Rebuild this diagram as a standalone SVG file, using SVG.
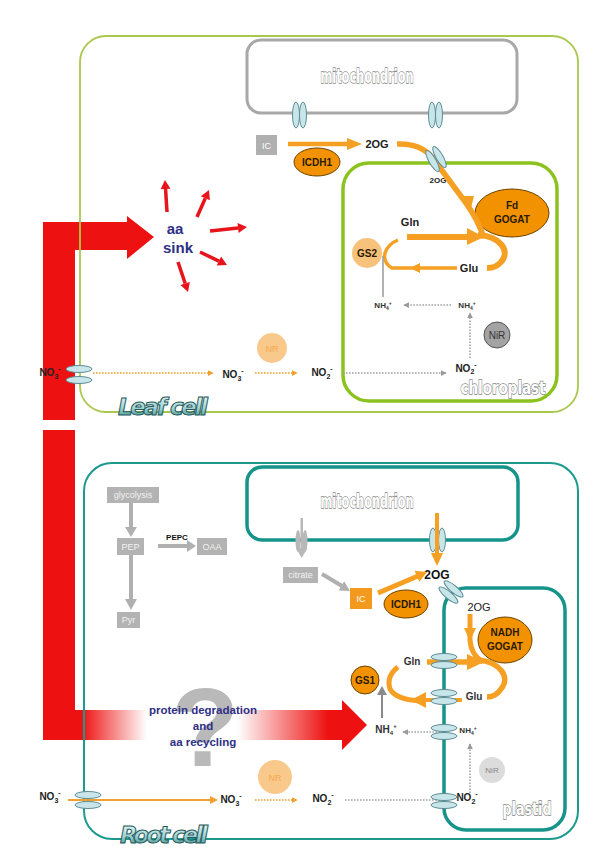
<svg xmlns="http://www.w3.org/2000/svg" width="600" height="864" viewBox="0 0 600 864">
<defs>
<style>
text{font-family:"Liberation Sans",Arial,sans-serif;}
.lbl{font-size:10px;font-weight:bold;fill:#222;text-anchor:middle}
.nh{font-size:8px;font-weight:bold;fill:#333;text-anchor:middle}
.org{fill:#f39200;stroke:#6b4200;stroke-width:1}
.otx{font-size:10px;font-weight:bold;fill:#2a1a00;text-anchor:middle}
.thick{fill:none;stroke:#f5a023;stroke-linecap:butt}
.ah{fill:#f5a023}
.dotO{fill:none;stroke:#f0a030;stroke-width:1.6;stroke-dasharray:1.6 1.4}
.dotG{fill:none;stroke:#a3a3a3;stroke-width:1.6;stroke-dasharray:1.6 1.4}
.chan{fill:#c8e6ea;stroke:#5d8d96;stroke-width:1}
.outl{font-family:"DejaVu Sans",sans-serif;font-weight:bold;fill:#ffffff;stroke:#858585;stroke-width:1.3;paint-order:stroke;text-anchor:middle}
.cell{font-family:"DejaVu Sans",sans-serif;font-style:italic;font-weight:bold;font-size:23px;fill:url(#cellG);stroke:#24585a;stroke-width:1}
.gbox{fill:#b3b3b3}
.gtxt{font-size:9px;fill:#f2f2f2;text-anchor:middle}
.blue{fill:#2e2f86;font-weight:bold;text-anchor:middle}
.red{fill:none;stroke:#e8141c;stroke-width:3.5}
.redh{fill:#e8141c}
.garr{fill:none;stroke:#b0b0b0;stroke-width:4}
.gah{fill:#b0b0b0}
</style>
<linearGradient id="cellG" x1="0" y1="0" x2="0" y2="1">
<stop offset="0" stop-color="#eefafa"/>
<stop offset="0.55" stop-color="#9fd3d3"/>
<stop offset="1" stop-color="#2f8585"/>
</linearGradient>
<linearGradient id="redG" gradientUnits="userSpaceOnUse" x1="43" y1="0" x2="367" y2="0">
<stop offset="0" stop-color="#ee1111"/>
<stop offset="0.12" stop-color="#ee1111"/>
<stop offset="0.32" stop-color="#ffffff"/>
<stop offset="0.6" stop-color="#ffffff"/>
<stop offset="0.88" stop-color="#ee1111"/>
<stop offset="1" stop-color="#ee1111"/>
</linearGradient>
<marker id="aO" viewBox="0 0 8 8" refX="7" refY="4" markerWidth="6" markerHeight="6" orient="auto" markerUnits="userSpaceOnUse"><path d="M0,0 L8,4 L0,8 z" fill="#f0a030"/></marker>
<marker id="aG" viewBox="0 0 8 8" refX="7" refY="4" markerWidth="6" markerHeight="6" orient="auto" markerUnits="userSpaceOnUse"><path d="M0,0 L8,4 L0,8 z" fill="#9a9a9a"/></marker>
</defs>
<rect width="600" height="864" fill="#ffffff"/>

<!-- red flows (drawn first) -->
<g id="flows">
<path d="M43 222 H127 V216 L154 237 L127 259 V250 H75 V420 H43 Z" fill="#ee1111"/>
<rect x="43" y="430" width="32" height="281" fill="#ee1111"/>
<path d="M43 710 H342 V700 L367 725 L342 750 V740 H43 Z" fill="url(#redG)"/>
<text x="205" y="766" font-size="112" font-weight="bold" fill="#b9b9b9" text-anchor="middle">?</text>
</g>

<!-- LEAF CELL -->
<g id="leaf-cell">
<rect x="80" y="36" width="498" height="376" rx="26" fill="none" stroke="#aac84e" stroke-width="1.8"/>
<text class="cell" x="163" y="415" text-anchor="middle" textLength="90">Leaf cell</text>
</g>
<g id="leaf-mitochondrion">
<rect x="247" y="40" width="270" height="73" rx="14" fill="none" stroke="#a8a8a8" stroke-width="3"/>
<text class="outl" x="367" y="83" font-size="19" textLength="93" lengthAdjust="spacingAndGlyphs">mitochondrion</text>
<ellipse class="chan" cx="296" cy="115" rx="3.5" ry="13"/>
<ellipse class="chan" cx="303" cy="115" rx="3.5" ry="13"/>
<ellipse class="chan" cx="432" cy="115" rx="3.5" ry="13"/>
<ellipse class="chan" cx="439" cy="115" rx="3.5" ry="13"/>
</g>
<g id="leaf-chloroplast">
<rect x="343" y="163" width="214" height="238" rx="26" fill="none" stroke="#8cc21e" stroke-width="3.5"/>
<text class="outl" x="503" y="394" font-size="17" textLength="85" lengthAdjust="spacingAndGlyphs">chloroplast</text>
</g>
<g id="leaf-IC">
<rect x="256" y="135" width="21" height="20" fill="#b0b0b0"/>
<text x="266.5" y="148.5" font-size="9" fill="#fff" text-anchor="middle">IC</text>
</g>
<g id="leaf-ICDH1">
<ellipse class="org" cx="317" cy="162" rx="23" ry="14"/>
<text class="otx" x="317" y="166">ICDH1</text>
</g>
<g id="leaf-2OG"><text x="377" y="148" font-size="11" font-weight="bold" fill="#222" text-anchor="middle">2OG</text></g>
<g id="leaf-2OG-chl"><text x="438" y="183" font-size="8" font-weight="bold" fill="#222" text-anchor="middle">2OG</text></g>
<g id="leaf-FdGOGAT">
<ellipse class="org" cx="512" cy="213" rx="37" ry="24"/>
<text class="otx" x="512" y="209">Fd</text>
<text class="otx" x="512" y="223">GOGAT</text>
</g>
<g id="leaf-Gln"><text x="410" y="226" font-size="11" font-weight="bold" fill="#222" text-anchor="middle">Gln</text></g>
<g id="leaf-Glu"><text x="469" y="272" font-size="11" font-weight="bold" fill="#222" text-anchor="middle">Glu</text></g>
<g id="leaf-GS2">
<circle cx="367" cy="253" r="15" fill="#f7c27c"/>
<text class="otx" x="367" y="257">GS2</text>
</g>
<g id="leaf-NH4-a"><text class="nh" x="383" y="308">NH<tspan font-size="5" dy="2">4</tspan><tspan font-size="5" dy="-5">+</tspan></text></g>
<g id="leaf-NH4-b"><text class="nh" x="467" y="308">NH<tspan font-size="5" dy="2">4</tspan><tspan font-size="5" dy="-5">+</tspan></text></g>
<g id="leaf-NiR">
<circle cx="497" cy="335" r="13" fill="#a3a3a3" stroke="#555" stroke-width="1"/>
<text x="497" y="339" font-size="10" fill="#333" text-anchor="middle">NiR</text>
</g>
<g id="leaf-NO2-chl"><text class="lbl" x="466" y="372">NO<tspan font-size="7" dy="2">2</tspan><tspan font-size="7" dy="-7">-</tspan></text></g>
<g id="leaf-NO3-out"><text class="lbl" x="50" y="376">NO<tspan font-size="7" dy="3">3</tspan><tspan font-size="7" dy="-8">-</tspan></text></g>
<g id="leaf-NO3-in"><text class="lbl" x="233" y="378">NO<tspan font-size="7" dy="3">3</tspan><tspan font-size="7" dy="-8">-</tspan></text></g>
<g id="leaf-NR">
<circle cx="272" cy="348" r="15" fill="#f9c98c"/>
<text x="272" y="352" font-size="9" fill="#f5a84e" text-anchor="middle">NR</text>
</g>
<g id="leaf-NO2-cyt"><text class="lbl" x="322" y="376">NO<tspan font-size="7" dy="3">2</tspan><tspan font-size="7" dy="-8">-</tspan></text></g>
<g id="aa-sink">
<text class="blue" x="175" y="234" font-size="15" font-weight="normal">aa</text>
<text class="blue" x="178" y="253" font-size="15">sink</text>
</g>
<g id="leaf-channel-pm">
<ellipse class="chan" cx="79" cy="369" rx="13" ry="3.5"/>
<ellipse class="chan" cx="79" cy="380" rx="13" ry="3.5"/>
</g>

<!-- ROOT CELL -->
<g id="root-cell">
<rect x="84" y="463" width="494" height="376" rx="28" fill="none" stroke="#1d9a8e" stroke-width="2"/>
<text class="cell" x="164" y="843" text-anchor="middle" textLength="88">Root cell</text>
</g>
<g id="root-mitochondrion">
<rect x="247" y="467" width="271" height="73" rx="15" fill="none" stroke="#16948a" stroke-width="3.5"/>
<text class="outl" x="367" y="508" font-size="19" textLength="93" lengthAdjust="spacingAndGlyphs">mitochondrion</text>
<ellipse class="chan" cx="433" cy="540" rx="3.5" ry="12"/>
<ellipse class="chan" cx="442" cy="540" rx="3.5" ry="12"/>
<g fill="#b8b8b8">
<ellipse cx="298" cy="541" rx="2.5" ry="11"/>
<ellipse cx="305" cy="541" rx="2.5" ry="11"/>
<rect x="300.5" y="518" width="2.5" height="32"/>
<path d="M296 548 L307.5 548 L301.7 558 Z"/>
</g>
</g>
<g id="root-plastid">
<rect x="444" y="588" width="121" height="242" rx="22" fill="none" stroke="#16948a" stroke-width="3.5"/>
<text class="outl" x="527" y="815" font-size="17" textLength="49" lengthAdjust="spacingAndGlyphs">plastid</text>
</g>
<g id="glycolysis"><rect class="gbox" x="107" y="487" width="52" height="16"/><text class="gtxt" x="133" y="498">glycolysis</text></g>
<g id="PEP"><rect class="gbox" x="117" y="538" width="27" height="17"/><text class="gtxt" x="130.5" y="550">PEP</text></g>
<g id="OAA"><rect class="gbox" x="197" y="538" width="30" height="17"/><text class="gtxt" x="212" y="550">OAA</text></g>
<g id="Pyr"><rect class="gbox" x="117" y="612" width="23" height="16"/><text class="gtxt" x="128.5" y="623">Pyr</text></g>
<g id="PEPC"><text x="177" y="540" font-size="8" font-weight="bold" fill="#111" text-anchor="middle">PEPC</text></g>
<g id="citrate"><rect class="gbox" x="283" y="567" width="35" height="16"/><text class="gtxt" x="300.5" y="578">citrate</text></g>
<g id="root-IC"><rect x="350" y="588" width="22" height="21" fill="#f39a1e"/><text x="361" y="602" font-size="9" fill="#fff" text-anchor="middle">IC</text></g>
<g id="root-ICDH1"><ellipse class="org" cx="406" cy="604" rx="22" ry="14"/><text class="otx" x="406" y="608">ICDH1</text></g>
<g id="root-2OG"><text x="437" y="579" font-size="12" font-weight="bold" fill="#111" text-anchor="middle">2OG</text></g>
<g id="root-2OG-pl"><text x="479" y="611" font-size="11" fill="#222" text-anchor="middle">2OG</text></g>
<g id="root-NADHGOGAT"><ellipse class="org" cx="505" cy="640" rx="27" ry="23"/><text class="otx" x="505" y="636">NADH</text><text class="otx" x="505" y="650">GOGAT</text></g>
<g id="root-Gln"><text x="412" y="665" font-size="10" font-weight="bold" fill="#333" text-anchor="middle">Gln</text></g>
<g id="root-Glu"><text x="474" y="700" font-size="10" font-weight="bold" fill="#333" text-anchor="middle">Glu</text></g>
<g id="root-GS1"><circle class="org" cx="365" cy="680" r="14" fill="#f39a1e"/><text class="otx" x="365" y="684">GS1</text></g>
<g id="root-NH4-a"><text x="386" y="733" font-size="10" font-weight="bold" fill="#333" text-anchor="middle">NH<tspan font-size="6" dy="2">4</tspan><tspan font-size="6" dy="-7">+</tspan></text></g>
<g id="root-NH4-b"><text class="nh" x="468" y="733">NH<tspan font-size="5" dy="2">4</tspan><tspan font-size="5" dy="-5">+</tspan></text></g>
<g id="root-NiR"><circle cx="492" cy="770" r="13" fill="#dcdcdc"/><text x="492" y="773" font-size="8" fill="#888" text-anchor="middle">NiR</text></g>
<g id="root-NO2-pl"><text class="lbl" x="467" y="801">NO<tspan font-size="7" dy="3">2</tspan><tspan font-size="7" dy="-8">-</tspan></text></g>
<g id="root-NO3-out"><text class="lbl" x="50" y="800">NO<tspan font-size="7" dy="3">3</tspan><tspan font-size="7" dy="-8">-</tspan></text></g>
<g id="root-NO3-in"><text class="lbl" x="231" y="803">NO<tspan font-size="7" dy="3">3</tspan><tspan font-size="7" dy="-8">-</tspan></text></g>
<g id="root-NR"><circle cx="275" cy="777" r="17" fill="#f9c98c"/><text x="275" y="781" font-size="9" fill="#f5a84e" text-anchor="middle">NR</text></g>
<g id="root-NO2-cyt"><text class="lbl" x="323" y="802">NO<tspan font-size="7" dy="3">2</tspan><tspan font-size="7" dy="-8">-</tspan></text></g>
<g id="protein-degradation">
<text class="blue" x="203" y="714" font-size="11.5">protein degradation</text>
<text class="blue" x="203" y="730" font-size="11.5">and</text>
<text class="blue" x="203" y="746" font-size="11.5">aa recycling</text>
</g>

<!-- CONNECTORS -->
<g id="connectors">
<line class="red" x1="167" y1="212" x2="165.6" y2="189"/><polygon class="redh" points="165,180 170.5,188.7 160.6,189.3"/>
<line class="red" x1="197" y1="217" x2="205.3" y2="198.2"/><polygon class="redh" points="209,190 209.9,200.3 200.8,196.2"/>
<line class="red" x1="210" y1="231" x2="238" y2="228"/><polygon class="redh" points="247,227 238.6,232.9 237.5,223"/>
<line class="red" x1="200" y1="252" x2="218.9" y2="261.1"/><polygon class="redh" points="227,265 216.7,265.6 221.1,256.6"/>
<line class="red" x1="178" y1="262" x2="185.2" y2="283.5"/><polygon class="redh" points="188,292 180.4,285 189.9,281.9"/>

<line class="thick" x1="288" y1="144" x2="350" y2="144" stroke-width="4.5"/>
<polygon class="ah" points="347,138 362,144 347,150"/>
<path class="thick" d="M397 144 Q420 143 432 157 L466 203 Q478 220 484 238" stroke-width="5.5"/>
<polygon class="ah" points="459,196 474,196 470,212"/>
<g transform="translate(436,159) rotate(60)">
<ellipse class="chan" cx="0" cy="-4" rx="12" ry="3.5"/>
<ellipse class="chan" cx="0" cy="4" rx="12" ry="3.5"/>
</g>
<line class="thick" x1="407" y1="237" x2="470" y2="237" stroke-width="6"/>
<polygon class="ah" points="467,228 484,237 467,245"/>
<path class="thick" d="M478 235 C500 236 511 251 501 262 C497 267 493 268 487 268" stroke-width="6"/>
<path class="thick" d="M457 268 L392 268 Q383 263 385 253 Q388 244 398 240" stroke-width="3.5"/>
<polygon class="ah" points="420,263 410,268 420,273"/>
<line x1="383" y1="256" x2="383" y2="297" stroke="#9f9f9f" stroke-width="1.6"/>
<line class="dotG" x1="451" y1="305" x2="404" y2="305" marker-end="url(#aG)"/>
<line class="dotG" x1="470" y1="358" x2="470" y2="313" marker-end="url(#aG)"/>
<line class="dotO" x1="93" y1="373" x2="213" y2="373" marker-end="url(#aO)"/>
<line class="dotO" x1="255" y1="373" x2="297" y2="373" marker-end="url(#aO)"/>
<line class="dotG" x1="343" y1="373" x2="446" y2="373" marker-end="url(#aG)"/>

<line class="garr" x1="131" y1="503" x2="131" y2="528"/><polygon class="gah" points="125,527 137,527 131,537"/>
<line class="garr" x1="131" y1="555" x2="131" y2="600"/><polygon class="gah" points="125,599 137,599 131,610"/>
<line class="garr" x1="158" y1="546" x2="188" y2="546"/><polygon class="gah" points="187,540 187,552 196,546"/>
<line class="garr" x1="322" y1="574" x2="342" y2="586"/><polygon class="gah" points="350,591 338.6,590.6 344.2,581.2"/>
<line class="thick" x1="378" y1="593" x2="418" y2="576" stroke-width="5"/>
<polygon class="ah" points="427,572 419.3,581.8 414.5,570.8"/>
<line class="thick" x1="437" y1="513" x2="437" y2="555" stroke-width="4"/>
<polygon class="ah" points="431,553 443,553 437,566"/>
<g transform="translate(451,592) rotate(40)">
<ellipse class="chan" cx="0" cy="-4" rx="12" ry="3.5"/>
<ellipse class="chan" cx="0" cy="4" rx="12" ry="3.5"/>
</g>
<path class="thick" d="M470 614 L470 640 Q471 655 483 662" stroke-width="5"/>
<polygon class="ah" points="464,628 476,628 470,641"/>
<line class="thick" x1="427" y1="662" x2="470" y2="662" stroke-width="5.5"/>
<polygon class="ah" points="467,654 484,662 467,670"/>
<path class="thick" d="M478 660 C500 662 511 677 501 689 C497 695 492 697 487 697" stroke-width="5.5"/>
<path class="thick" d="M462 700 L418 700" stroke-width="4"/>
<path class="thick" d="M422 701 Q396 700 390 689 Q386 676 398 667" stroke-width="5"/>
<polygon class="ah" points="426,692 411,700 426,708"/>
<line x1="382" y1="718" x2="382" y2="694" stroke="#8a8a8a" stroke-width="2"/>
<polygon points="377,695 387,695 382,686" fill="#8a8a8a"/>
<line class="dotG" x1="440" y1="732" x2="403" y2="732" marker-end="url(#aG)"/>
<line class="dotG" x1="470" y1="793" x2="470" y2="744" marker-end="url(#aG)"/>
<line x1="68" y1="800" x2="212" y2="800" stroke="#f0a030" stroke-width="2"/>
<polygon points="210,796 218,800 210,804" fill="#f0a030"/>
<line class="dotO" x1="255" y1="800" x2="297" y2="800" marker-end="url(#aO)"/>
<line class="dotG" x1="345" y1="800" x2="444" y2="800"/>
<ellipse class="chan" cx="444" cy="657" rx="13" ry="3.5"/>
<ellipse class="chan" cx="444" cy="665" rx="13" ry="3.5"/>
<ellipse class="chan" cx="444" cy="693" rx="13" ry="3.5"/>
<ellipse class="chan" cx="444" cy="701" rx="13" ry="3.5"/>
<ellipse class="chan" cx="444" cy="728" rx="13" ry="3.5"/>
<ellipse class="chan" cx="444" cy="736" rx="13" ry="3.5"/>
<ellipse class="chan" cx="444" cy="797" rx="13" ry="3.5"/>
<ellipse class="chan" cx="444" cy="805" rx="13" ry="3.5"/>
<ellipse class="chan" cx="88" cy="795" rx="13" ry="3.5"/>
<ellipse class="chan" cx="88" cy="805" rx="13" ry="3.5"/>
</g>
</svg>
